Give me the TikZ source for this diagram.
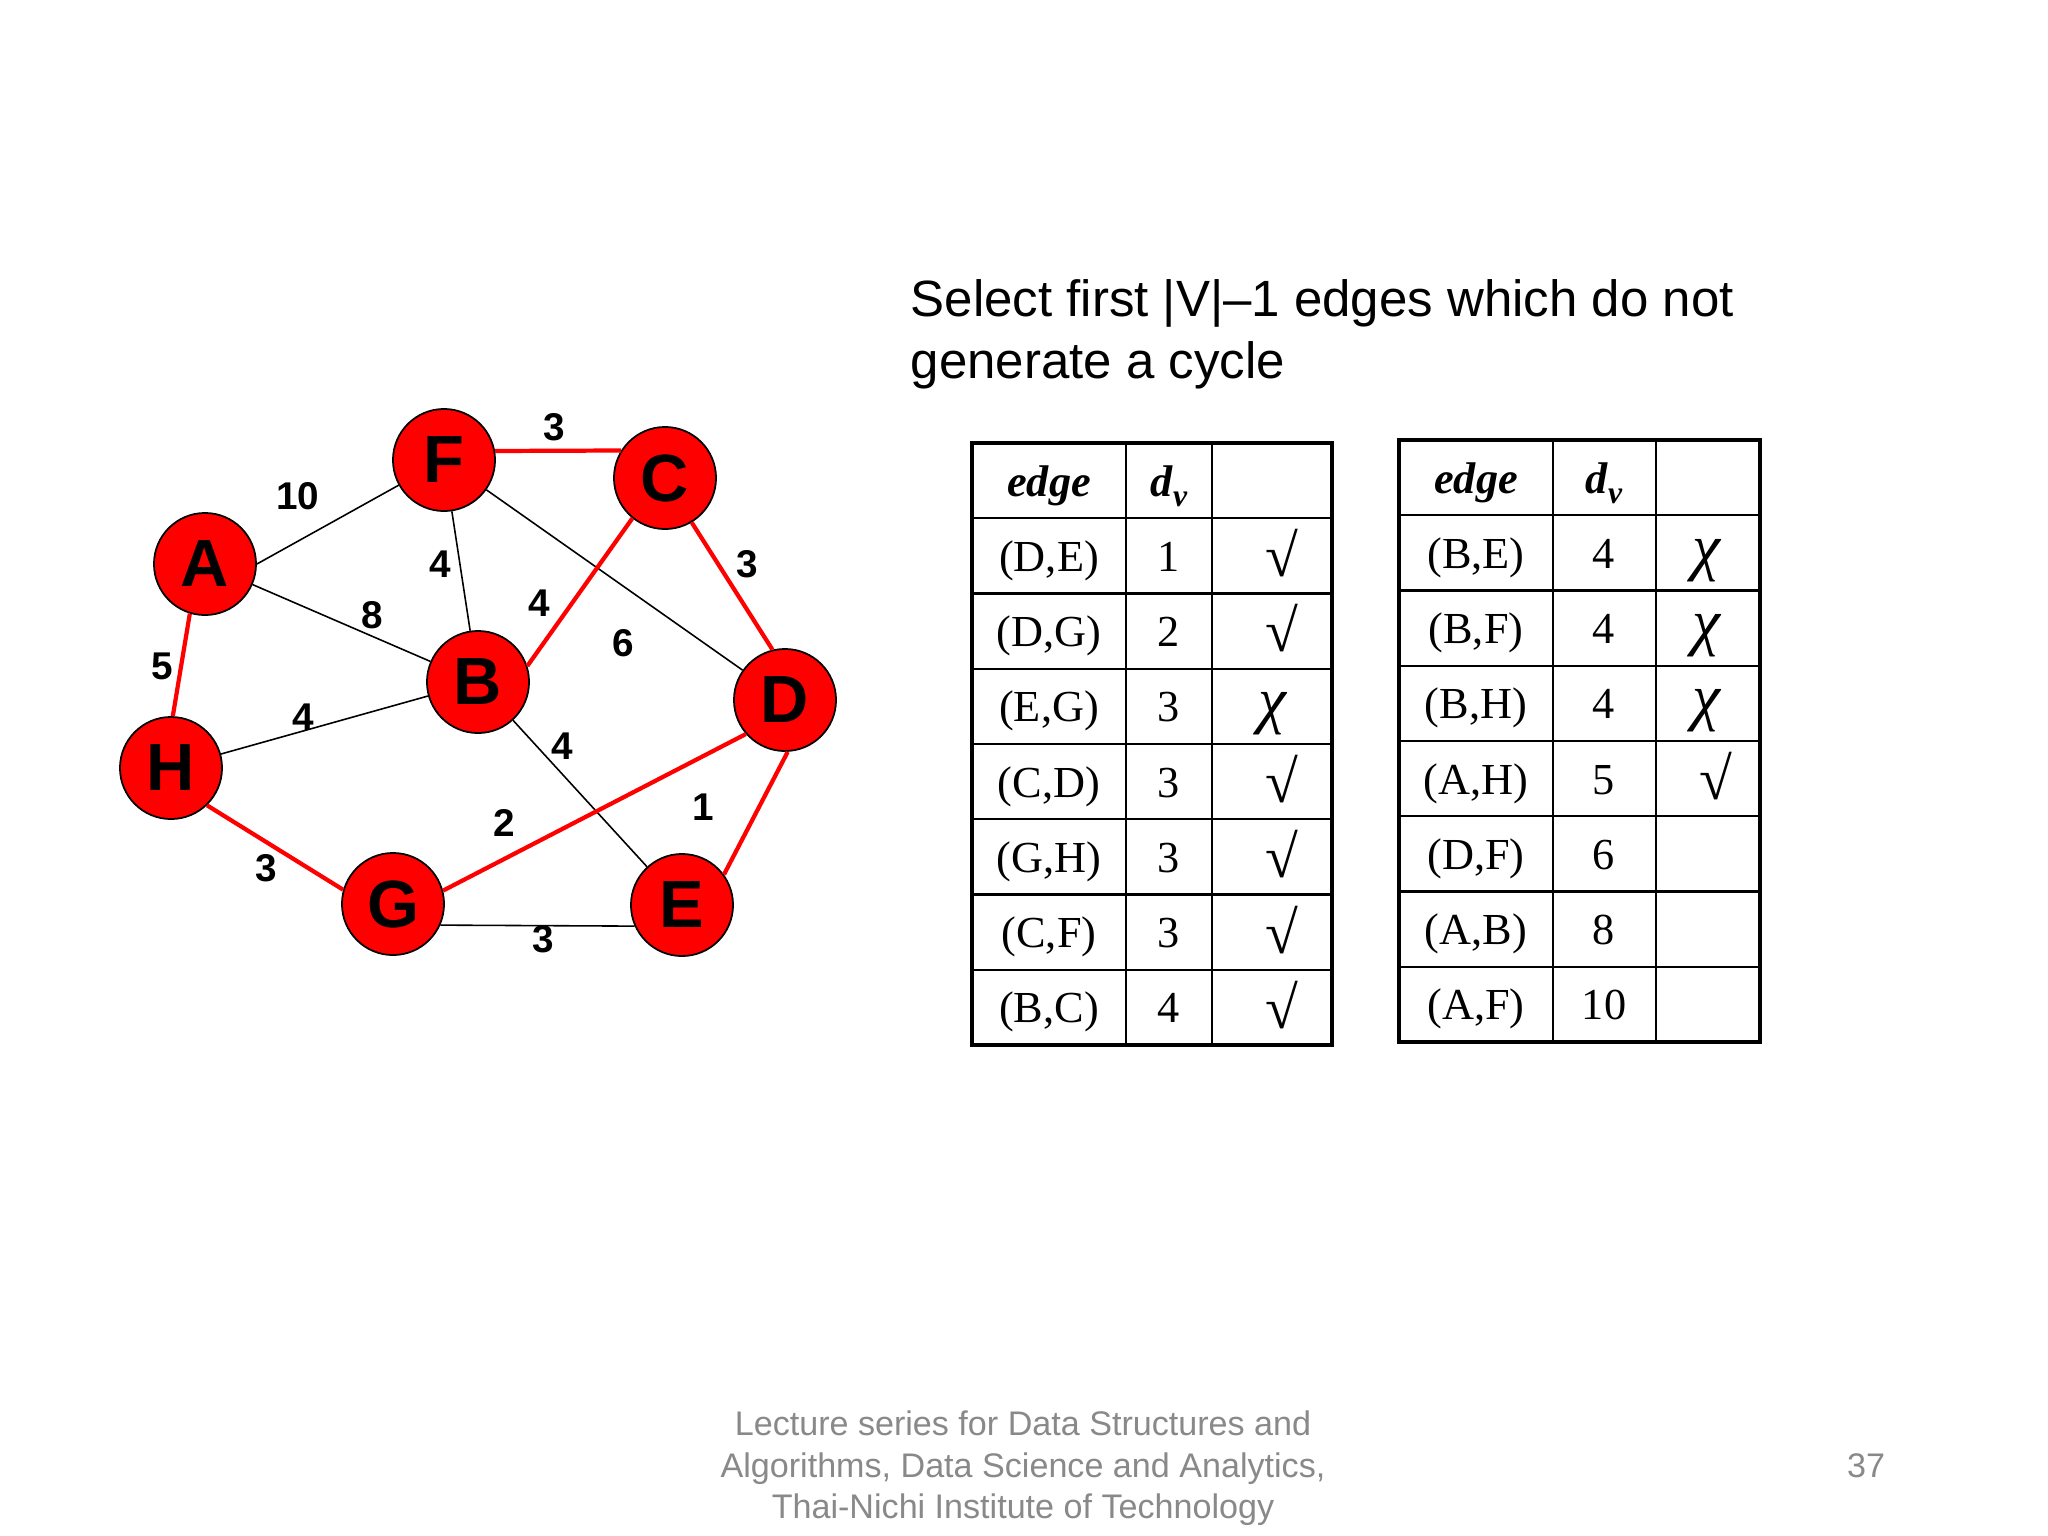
\documentclass[tikz,border=0pt]{standalone}
\usepackage{fontspec}
\setmainfont{Liberation Serif}
\newfontfamily\arial{Liberation Sans}
\usetikzlibrary{calc}
\definecolor{nodered}{RGB}{255,0,0}
\definecolor{footgray}{RGB}{137,137,137}
\newcommand\ckmark{{\fontsize{17}{17}\selectfont\raisebox{-0.2ex}{√}}}
\newcommand\chimark{{\itshape\fontsize{18}{18}\selectfont χ}}
\begin{document}
\begin{tikzpicture}[x=0.01cm,y=-0.01cm,
  vtx/.style={circle,draw=black,line width=0.5pt,fill=nodered,minimum size=1.02cm,inner sep=0pt,font=\arial\bfseries\fontsize{19}{19}\selectfont},
  tree/.style={draw=nodered,line width=1.2pt},
  other/.style={draw=black,line width=0.45pt},
  wlab/.style={font=\arial\bfseries\fontsize{11}{11}\selectfont,inner sep=0pt},
  cell/.style={font=\fontsize{12.6}{14}\selectfont,inner sep=0pt,anchor=base},
  hcell/.style={font=\bfseries\itshape\fontsize{12.6}{14}\selectfont,inner sep=0pt,anchor=base},
  outer/.style={draw=black,line width=1.4pt},
  inner/.style={draw=black,line width=0.6pt},
  foot/.style={font=\arial\fontsize{9.7}{11.6}\selectfont,text=footgray,inner sep=0pt,anchor=base}
]
\useasboundingbox[fill=white] (0,0) rectangle (2048,1536);

% vertices
\node[vtx] (F) at (444,460) {F};
\node[vtx] (C) at (665,478) {C};
\node[vtx] (A) at (205,564) {A};
\node[vtx] (B) at (478,682) {B};
\node[vtx] (D) at (785,700) {D};
\node[vtx] (H) at (171,768) {H};
\node[vtx] (G) at (393,904) {G};
\node[vtx] (E) at (682,905) {E};

% non-tree edges
\draw[other] (A.east) -- (F);
\draw[other] (A) -- (B);
\draw[other] (F) -- (B);
\draw[other] (F) -- (D);
\draw[other] (H) -- (B);
\draw[other] (B) -- (E);
\draw[other] (G.-24) -- (E.-156);

% tree edges
\draw[tree] (F.10) -- (C.148);
\draw[tree] (C.-59) -- (D.104);
\draw[tree] (B.18) -- (C.231);
\draw[tree] (A.-107) -- (H.88);
\draw[tree] (H.-46) -- (G.164);
\draw[tree] (G.15) -- (D.221);
\draw[tree] (D.-87) -- (E.36);

% weights
\node[wlab] (wFC) at (554,427) {3};
\node[wlab] (wAF) at (298,496) {10};
\node[wlab] (wFB) at (440,564) {4};
\node[wlab] (wAB) at (372,615) {8};
\node[wlab] (wBC) at (539,603) {4};
\node[wlab] (wFD) at (623,643) {6};
\node[wlab] (wCD) at (747,564) {3};
\node[wlab] (wAH) at (162,666) {5};
\node[wlab] (wHB) at (303,717) {4};
\node[wlab] (wBE) at (562,746) {4};
\node[wlab] (wGD) at (504,823) {2};
\node[wlab] (wDE) at (703,807) {1};
\node[wlab] (wHG) at (266,868) {3};
\node[wlab] (wGE) at (543,939) {3};

% title
\node[font=\arial\fontsize{14.5}{16.5}\selectfont,inner sep=0pt,anchor=base west] (t1) at (910,316) {Select first |V|–1 edges which do not};
\node[font=\arial\fontsize{14.5}{16.5}\selectfont,inner sep=0pt,anchor=base west] (t2) at (910,378) {generate a cycle};

% left table grid
\foreach \k in {1,...,7} \draw[inner] (972,443+75.25*\k) -- (1332,443+75.25*\k);
\draw[inner] (1126,443) -- (1126,1045);
\draw[inner] (1212,443) -- (1212,1045);
\draw[outer] (972,443) rectangle (1332,1045);

% right table grid
\foreach \k in {1,...,7} \draw[inner] (1399,440+75.25*\k) -- (1760,440+75.25*\k);
\draw[inner] (1553,440) -- (1553,1042);
\draw[inner] (1656,440) -- (1656,1042);
\draw[outer] (1399,440) rectangle (1760,1042);

% headers
\node[hcell] (Lh1) at (1049,496) {edge};
\node[hcell] (Lh2) at (1169,496) {d\raisebox{-0.5ex}{\fontsize{9}{9}\selectfont v}};
\node[hcell] (Rh1) at (1476,493) {edge};
\node[hcell] (Rh2) at (1604,493) {d\raisebox{-0.5ex}{\fontsize{9}{9}\selectfont v}};

% left rows
\foreach \e/\d/\m/\mx [count=\i] in {{(D,E)}/1/\ckmark/1282, {(D,G)}/2/\ckmark/1282, {(E,G)}/3/\chimark/1272, {(C,D)}/3/\ckmark/1282, {(G,H)}/3/\ckmark/1282, {(C,F)}/3/\ckmark/1282, {(B,C)}/4/\ckmark/1282}{
  \node[cell] (Le\i) at (1049,443+75.25*\i+53) {\e};
  \node[cell] (Ld\i) at (1169,443+75.25*\i+53) {\d};
  \node[cell] (Lm\i) at (\mx,443+75.25*\i+53) {\m};
}

% right rows
\foreach \e/\d/\m/\mx [count=\i] in {{(B,E)}/4/\chimark/1706, {(B,F)}/4/\chimark/1706, {(B,H)}/4/\chimark/1706, {(A,H)}/5/\ckmark/1716}{
  \node[cell] (Re\i) at (1476,440+75.25*\i+53) {\e};
  \node[cell] (Rd\i) at (1604,440+75.25*\i+53) {\d};
  \node[cell] (Rm\i) at (\mx,440+75.25*\i+53) {\m};
}
\foreach \e/\d [count=\j from 5] in {{(D,F)}/6, {(A,B)}/8, {(A,F)}/10}{
  \node[cell] (Re\j) at (1476,440+75.25*\j+53) {\e};
  \node[cell] (Rd\j) at (1604,440+75.25*\j+53) {\d};
}

% footer
\node[foot] (f1) at (1023,1435) {Lecture series for Data Structures and};
\node[foot] (f2) at (1023,1477) {Algorithms, Data Science and Analytics,};
\node[foot] (f3) at (1023,1518) {Thai-Nichi Institute of Technology};
\node[foot] (pg) at (1866,1477) {37};
\end{tikzpicture}
\end{document}
